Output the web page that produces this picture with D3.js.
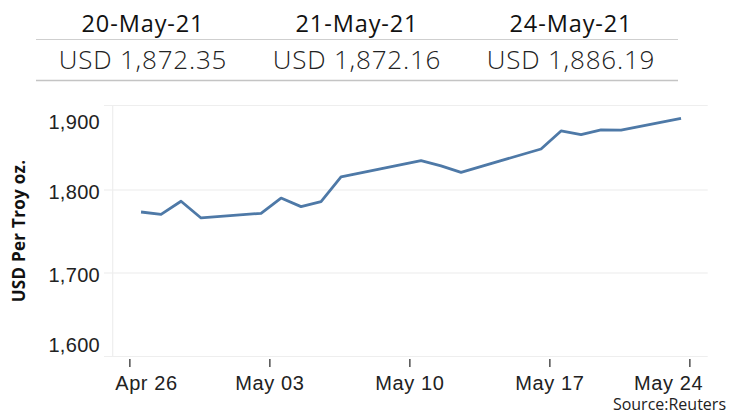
<!DOCTYPE html>
<html>
<head>
<meta charset="utf-8">
<script src="https://cdn.jsdelivr.net/npm/d3@7"></script>
<style>
  body { margin: 0; background: #fff; }
  svg { display: block; font-family: "Open Sans", sans-serif; }
</style>
</head>
<body>
<div id="chart"></div>
<script>
// gold price, USD per troy oz — daily closes, late April to late May 2021

const dates = [
  "2021-04-27", "2021-04-28", "2021-04-29", "2021-04-30",
  "2021-05-03", "2021-05-04", "2021-05-05", "2021-05-06", "2021-05-07",
  "2021-05-11", "2021-05-12", "2021-05-13",
  "2021-05-17", "2021-05-18", "2021-05-19", "2021-05-20", "2021-05-21",
  "2021-05-24"
];
const prices = [
  1773.5, 1770.7, 1786.4, 1766.3,
  1771.9, 1790.3, 1780.0, 1786.0, 1815.7,
  1835.3, 1829.0, 1821.3,
  1849.4, 1871.1, 1866.6, 1872.35, 1872.16,
  1886.19
];
const headerDates = ["20-May-21", "21-May-21", "24-May-21"];
const headerValues = ["USD 1,872.35", "USD 1,872.16", "USD 1,886.19"];
const yTicks = [1600, 1700, 1800, 1900];
const xTicks = ["2021-04-26", "2021-05-03", "2021-05-10", "2021-05-17", "2021-05-24"];

const width = 730;
const height = 416;
const pane = { left: 112.7, right: 707.7, top: 105.5, bottom: 356.5 };

const parse = d3.timeParse("%Y-%m-%d");
const data = dates.map((d, i) => ({ date: parse(d), value: prices[i] }));

const svg = d3.select("#chart").append("svg")
  .attr("width", width)
  .attr("height", height);

// header table
const table = { left: 36, right: 678 };
const colW = (table.right - table.left) / headerDates.length;

svg.append("g").selectAll("line")
  .data([39.5, 80.5])
  .join("line")
  .attr("x1", table.left).attr("x2", table.right)
  .attr("y1", d => d).attr("y2", d => d)
  .attr("stroke", (d, i) => i === 0 ? "#cfcfcf" : "#c4c4c4")
  .attr("stroke-width", (d, i) => i === 0 ? 1 : 1.5);

svg.append("g").selectAll("text")
  .data(headerDates)
  .join("text")
  .attr("x", (d, i) => table.left + colW * (i + 0.5))
  .attr("y", 32)
  .attr("text-anchor", "middle")
  .style("font-size", "23.5px")
  .style("font-weight", 500)
  .style("letter-spacing", "0.9px")
  .attr("fill", "#111")
  .text(d => d);

svg.append("g").selectAll("text")
  .data(headerValues)
  .join("text")
  .attr("x", (d, i) => table.left + colW * (i + 0.5))
  .attr("y", 68.5)
  .attr("text-anchor", "middle")
  .style("font-size", "26px")
  .style("font-weight", 300)
  .style("letter-spacing", "0.8px")
  .attr("fill", "#222")
  .text(d => d);

// scales
const x = d3.scaleTime()
  .domain([d3.timeHour.offset(data[0].date, -34), d3.timeHour.offset(data[data.length - 1].date, 32)])
  .range([pane.left, pane.right]);

const y = d3.scaleLinear()
  .domain([1599.4, 1901.8])
  .range([pane.bottom, pane.top]);

// pane frame + gridlines
const grid = svg.append("g");
grid.selectAll("line.h")
  .data([pane.top, y(1800), y(1700), pane.bottom])
  .join("line")
  .attr("class", "h")
  .attr("x1", 104).attr("x2", pane.right)
  .attr("y1", d => d).attr("y2", d => d)
  .attr("stroke", (d, i) => (i === 1 || i === 2) ? "#ebebeb" : "#eeeeee")
  .attr("stroke-width", 1.2);

grid.append("line")
  .attr("x1", pane.left).attr("x2", pane.left)
  .attr("y1", pane.top).attr("y2", pane.bottom)
  .attr("stroke", "#eeeeee")
  .attr("stroke-width", 1.2);

// y axis (end labels nudged inside the pane like Tableau does)
const yAxis = svg.append("g")
  .attr("transform", `translate(${pane.left - 12.7},0)`)
  .call(d3.axisLeft(y).tickValues(yTicks).tickSize(0).tickPadding(0).tickFormat(d3.format(",")));
yAxis.select(".domain").remove();
yAxis.selectAll("text")
  .style("font-size", "20px")
  .style("letter-spacing", "0.3px")
  .attr("fill", "#222")
  .attr("dy", null)
  .attr("dominant-baseline", "central")
  .attr("y", d => Math.min(Math.max(y(d), pane.top + 14), pane.bottom - 14.5) - y(d) + 2);

svg.append("text")
  .attr("transform", `translate(25, ${(pane.top + pane.bottom) / 2}) rotate(-90)`)
  .attr("text-anchor", "middle")
  .style("font-size", "17px")
  .style("font-weight", 700)
  .style("letter-spacing", "0.3px")
  .attr("fill", "#111")
  .text("USD Per Troy oz.");

// x axis — Tableau puts its week ticks a bit past midnight
const xTickDates = xTicks.map(d => d3.timeHour.offset(parse(d), 10.5));
const xAxis = svg.append("g")
  .attr("transform", `translate(0,${pane.bottom + 2.5})`)
  .call(d3.axisBottom(x).tickValues(xTickDates).tickSize(8).tickPadding(9).tickFormat(d3.timeFormat("%b %d")));
xAxis.select(".domain").remove();
xAxis.selectAll(".tick line").attr("stroke", "#333").attr("stroke-width", 1.3);
xAxis.selectAll("text")
  .style("font-size", "20px")
  .style("letter-spacing", "0.6px")
  .attr("fill", "#222")
  .each(function () {
    const t = d3.select(this);
    const box = this.getBBox();
    const tx = x(t.datum());
    let shift = 0;
    if (tx + box.x < pane.left + 2) shift = pane.left + 2 - (tx + box.x);
    if (tx + box.x + box.width > pane.right - 5) shift = pane.right - 5 - (tx + box.x + box.width);
    t.attr("x", shift);
  });

// price line
const line = d3.line()
  .x(d => x(d.date))
  .y(d => y(d.value));

svg.append("path")
  .datum(data)
  .attr("fill", "none")
  .attr("stroke", "#4e79a7")
  .attr("stroke-width", 2.8)
  .attr("stroke-linejoin", "round")
  .attr("d", line);

svg.append("text")
  .attr("x", 726)
  .attr("y", 410)
  .attr("text-anchor", "end")
  .style("font-size", "16px")
  .attr("fill", "#222")
  .text("Source:Reuters");
</script>
</body>
</html>
